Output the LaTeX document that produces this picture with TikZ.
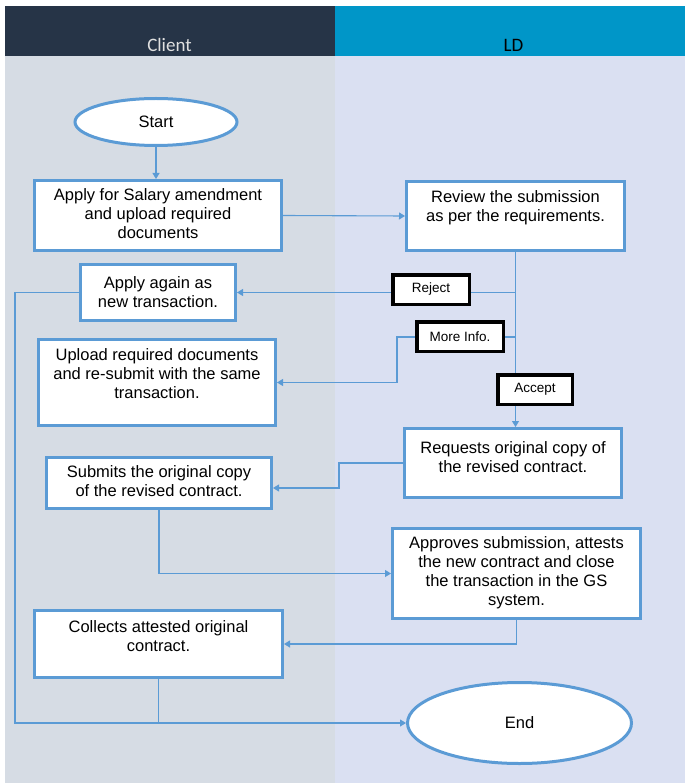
\documentclass[tikz,border=0pt]{standalone}
\usepackage{fontspec}
\setmainfont{Liberation Sans}
\newfontfamily\hdrfont{Carlito}
\usetikzlibrary{shapes.geometric,arrows.meta}
\definecolor{hdrL}{HTML}{263447}
\definecolor{hdrR}{HTML}{0096C8}
\definecolor{laneL}{HTML}{D6DCE4}
\definecolor{laneR}{HTML}{DAE0F2}
\definecolor{boxblue}{HTML}{5B9BD5}
\begin{document}
\begin{tikzpicture}[x=1pt,y=-1pt,
  box/.style={draw=boxblue, line width=3pt, fill=white, rectangle, inner sep=0pt},
  term/.style={draw=boxblue, line width=3pt, fill=white, ellipse, inner sep=0pt, font=\fontsize{16.5}{19}\selectfont},
  lbl/.style={draw=black, line width=3.5pt, fill=white, rectangle, inner sep=0pt, font=\fontsize{13.5}{15}\selectfont},
  txt/.style={align=center, font=\fontsize{16.5}{19}\selectfont, inner sep=0pt},
  hdr/.style={anchor=base, font=\hdrfont\fontsize{19}{22}\selectfont, inner sep=0pt},
  conn/.style={draw=boxblue, line width=1.1pt},
  arr/.style={conn, -{Triangle[length=6pt,width=7pt]}}
]
\useasboundingbox (0,0) rectangle (685,783);
\fill[white] (0,0) rectangle (685,783);
% lanes
\fill[laneL] (5,56) rectangle (335,783);
\fill[laneR] (335,56) rectangle (685,783);
\fill[hdrL] (5,6) rectangle (335,56);
\fill[hdrR] (335,6) rectangle (685,56);
\node[hdr, text=white!88!black] (client) at (169.5,51.5) {Client};
\node[hdr, text=black] (ld) at (513.5,51.5) {LD};

% boxes
\node[term, minimum width=162pt, minimum height=47pt] (start) at (156,122) {Start};
\node[box, minimum width=247pt, minimum height=70pt] (apply) at (158,215.5) {};
\node[box, minimum width=218pt, minimum height=69pt] (review) at (515.5,216) {};
\node[box, minimum width=155pt, minimum height=56pt] (again) at (158,292.5) {};
\node[box, minimum width=237pt, minimum height=86pt] (upload) at (157,382.5) {};
\node[box, minimum width=217pt, minimum height=69pt] (requests) at (513,463) {};
\node[box, minimum width=225pt, minimum height=51pt] (submits) at (159,483) {};
\node[box, minimum width=248pt, minimum height=90pt] (approves) at (516.5,573.5) {};
\node[box, minimum width=248pt, minimum height=67pt] (collects) at (158.5,644) {};
\node[term, minimum width=224pt, minimum height=81pt] (end) at (519.5,723) {End};

% texts
\node[txt] (apply-t) at (158,214) {Apply for Salary amendment\\and upload required\\documents};
\node[txt] (review-t) at (515.5,207.5) {Review the submission\\as per the requirements.};
\node[txt] (again-t) at (158,292.5) {Apply again as\\new transaction.};
\node[txt] (upload-t) at (157,374) {Upload required documents\\and re-submit with the same\\transaction.};
\node[txt] (requests-t) at (513,457) {Requests original copy of\\the revised contract.};
\node[txt] (submits-t) at (159,481) {Submits the original copy\\of the revised contract.};
\node[txt] (approves-t) at (516.5,573) {Approves submission, attests\\the new contract and close\\the transaction in the GS\\system.};
\node[txt] (collects-t) at (158.5,636.5) {Collects attested original\\contract.};

% connectors
\coordinate (mbend) at (397,337);
\coordinate (rbend) at (339,463);
\coordinate (lft) at (15,292.5);
\draw[arr] (start.south) -- (start.south |- apply.north);
\draw[arr] (apply.east) -- (review.west);
\draw[arr] (review.south) -- (review.south |- requests.north);
\draw[arr] (review.south |- again.east) -- (again.east);
\draw[arr] (review.south |- mbend) -- (mbend) |- (upload.east);
\draw[arr] (requests.west) -- (rbend) |- ([yshift=-5pt]submits.east);
\draw[arr] (submits.south) |- (approves.west);
\draw[arr] (approves.south) |- (collects.east);
\draw[conn] (collects.south) -- (collects.south |- end.west);
\draw[arr] (again.west) -- (lft) |- (end.west);

% decision labels
\node[lbl, minimum width=76.5pt, minimum height=29.5pt] (reject) at (431,289.5) {Reject};
\node[lbl, minimum width=86.5pt, minimum height=29.5pt] (moreinfo) at (460,336.5) {More Info.};
\node[lbl, minimum width=74.5pt, minimum height=29.5pt] (accept) at (535,389.5) {Accept};
\end{tikzpicture}
\end{document}
